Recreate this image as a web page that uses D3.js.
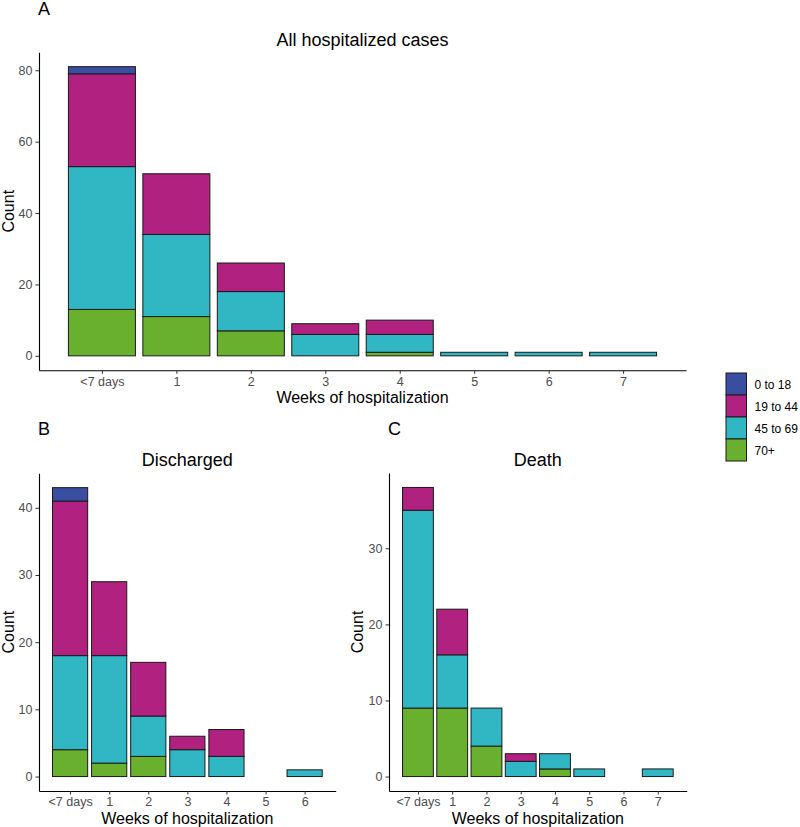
<!DOCTYPE html>
<html>
<head>
<meta charset="utf-8">
<script src="https://cdn.jsdelivr.net/npm/d3@7"></script>
<style>
  body { margin: 0; background: #fff; }
  svg { display: block; font-family: "Liberation Sans", Arial, sans-serif; }
</style>
</head>
<body>
<svg id="chart" width="800" height="827"></svg>
<script>
// ---- data ----
const ageGroups = ["0 to 18", "19 to 44", "45 to 69", "70+"];
const colors = ["#3A4EA1", "#B02180", "#31B6C3", "#6AB02F"];
const stackOrder = ["70+", "45 to 69", "19 to 44", "0 to 18"]; // bottom to top

const weekLabelsAll = ["<7 days", "1", "2", "3", "4", "5", "6", "7"];
const weekLabelsDischarged = ["<7 days", "1", "2", "3", "4", "5", "6"];

// values indexed by week position
const allAge0to18  = [2, 0, 0, 0, 0, 0, 0, 0];
const allAge19to44 = [26, 17, 8, 3, 4, 0, 0, 0];
const allAge45to69 = [40, 23, 11, 6, 5, 1, 1, 1];
const allAge70plus = [13, 11, 7, 0, 1, 0, 0, 0];

const disAge0to18  = [2, 0, 0, 0, 0, 0, 0];
const disAge19to44 = [23, 11, 8, 2, 4, 0, 0];
const disAge45to69 = [14, 16, 6, 4, 3, 0, 1];
const disAge70plus = [4, 2, 3, 0, 0, 0, 0];

const deathAge0to18  = [0, 0, 0, 0, 0, 0, 0, 0];
const deathAge19to44 = [3, 6, 0, 1, 0, 0, 0, 0];
const deathAge45to69 = [26, 7, 5, 2, 2, 1, 0, 1];
const deathAge70plus = [9, 9, 4, 0, 1, 0, 0, 0];

const yTicksAll = [0, 20, 40, 60, 80];
const yTicksDischarged = [0, 10, 20, 30, 40];
const yTicksDeath = [0, 10, 20, 30];

const color = d3.scaleOrdinal().domain(ageGroups).range(colors);
const svg = d3.select("#chart");

function buildRows(labels, a0, a19, a45, a70) {
  return labels.map((l, i) => ({
    pos: i,
    "0 to 18": a0[i], "19 to 44": a19[i], "45 to 69": a45[i], "70+": a70[i]
  }));
}

function panel(opts) {
  const rows = buildRows(opts.labels, ...opts.series);
  const n = opts.labels.length;
  const totals = rows.map(r => ageGroups.reduce((s, k) => s + r[k], 0));
  const maxY = d3.max(totals);
  const xPad = (n - 1 + 0.9) * 0.05 + 0.45;
  const x = d3.scaleLinear().domain([-xPad, n - 1 + xPad]).range([opts.x0, opts.x1]);
  const y = d3.scaleLinear().domain([-maxY * 0.05, maxY * 1.05]).range([opts.y1, opts.y0]);

  const g = svg.append("g");

  // panel tag
  g.append("text").attr("x", opts.x0 - 1).attr("y", opts.tagY)
    .attr("font-size", 18).attr("fill", "#000").text(opts.tag);
  // title
  g.append("text").attr("x", (opts.x0 + opts.x1) / 2).attr("y", opts.titleY)
    .attr("text-anchor", "middle").attr("font-size", 18).attr("fill", "#000").text(opts.title);

  // bars
  const stack = d3.stack().keys(stackOrder);
  const layers = stack(rows);
  const bw = x(0.9) - x(0);
  layers.forEach(layer => {
    g.append("g").selectAll("rect")
      .data(layer.filter(d => d[1] - d[0] > 0))
      .join("rect")
      .attr("x", d => x(d.data.pos) - bw / 2)
      .attr("width", bw)
      .attr("y", d => y(d[1]))
      .attr("height", d => y(d[0]) - y(d[1]))
      .attr("fill", color(layer.key))
      .attr("stroke", "#1a1a1a")
      .attr("stroke-width", 1);
  });

  // axes
  const xAxis = d3.axisBottom(x).tickValues(d3.range(n))
    .tickFormat(i => opts.labels[i]).tickSize(3.5).tickSizeOuter(0).tickPadding(3);
  const yAxis = d3.axisLeft(y).tickValues(opts.yTicks).tickSize(3.5).tickSizeOuter(0).tickPadding(3);

  const gx = g.append("g").attr("transform", `translate(0,${opts.y1})`).call(xAxis);
  const gy = g.append("g").attr("transform", `translate(${opts.x0},0)`).call(yAxis);
  [gx, gy].forEach(ax => {
    ax.select(".domain").attr("stroke", "#000").attr("stroke-width", 1.1);
    ax.selectAll(".tick line").attr("stroke", "#333").attr("stroke-width", 1);
    ax.selectAll(".tick text").attr("fill", "#4D4D4D").attr("font-size", 12.5)
      .attr("font-family", "'Liberation Sans', Arial, sans-serif");
  });

  // axis titles
  g.append("text").attr("x", (opts.x0 + opts.x1) / 2).attr("y", opts.y1 + 33)
    .attr("text-anchor", "middle").attr("font-size", 16).attr("fill", "#000")
    .text("Weeks of hospitalization");
  g.append("text")
    .attr("transform", `translate(${opts.countX},${(opts.y0 + opts.y1) / 2}) rotate(-90)`)
    .attr("text-anchor", "middle").attr("font-size", 16).attr("fill", "#000")
    .text("Count");
}

panel({
  tag: "A", title: "All hospitalized cases", tagY: 15, titleY: 46,
  labels: weekLabelsAll,
  series: [allAge0to18, allAge19to44, allAge45to69, allAge70plus],
  x0: 39, x1: 686, y0: 52.2, y1: 370.3, yTicks: yTicksAll, countX: 14
});
panel({
  tag: "B", title: "Discharged", tagY: 435, titleY: 466,
  labels: weekLabelsDischarged,
  series: [disAge0to18, disAge19to44, disAge45to69, disAge70plus],
  x0: 39, x1: 335.7, y0: 473.2, y1: 791, yTicks: yTicksDischarged, countX: 14
});
panel({
  tag: "C", title: "Death", tagY: 435, titleY: 466,
  labels: weekLabelsAll,
  series: [deathAge0to18, deathAge19to44, deathAge45to69, deathAge70plus],
  x0: 389, x1: 686.7, y0: 473, y1: 791, yTicks: yTicksDeath, countX: 363
});

// legend
const legend = svg.append("g").attr("transform", "translate(726,373)");
const keyH = 22, keyW = 20.5;
ageGroups.forEach((a, i) => {
  legend.append("rect").attr("x", 0).attr("y", i * keyH).attr("width", keyW).attr("height", keyH)
    .attr("fill", color(a)).attr("stroke", "#1a1a1a").attr("stroke-width", 1);
  legend.append("text").attr("x", keyW + 8).attr("y", i * keyH + keyH / 2 + 4.5)
    .attr("font-size", 12).attr("fill", "#000").text(a);
});
</script>
</body>
</html>
